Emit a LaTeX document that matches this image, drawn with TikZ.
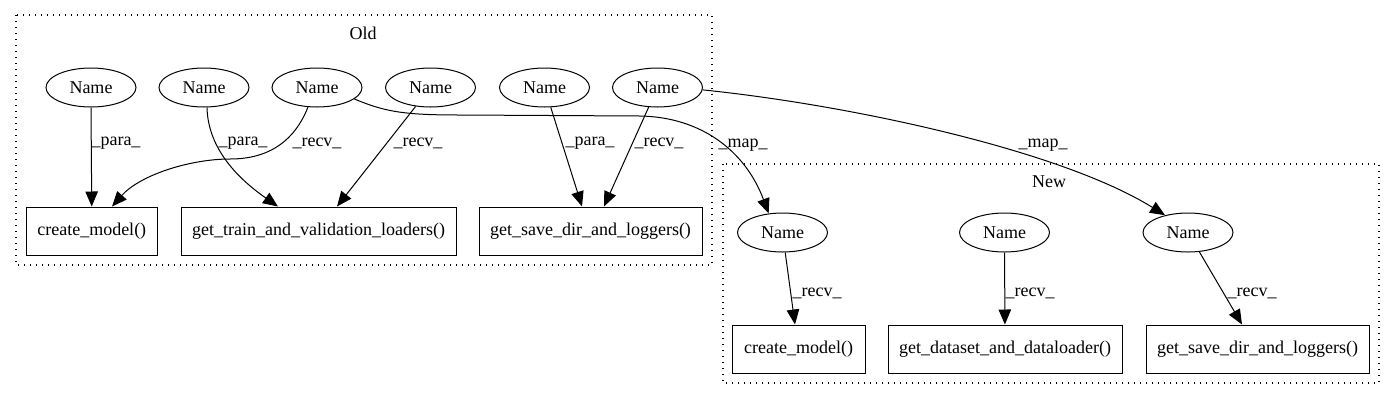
\documentclass[tikz,border=0pt]{standalone}
\usepackage{fontspec}
\setmainfont{Liberation Serif}
\usetikzlibrary{arrows.meta,shapes.geometric,calc}
\begin{document}
\begin{tikzpicture}[x=1pt,y=-1pt,font=\fontsize{18}{20}\selectfont,
  ell/.style={draw,ellipse,minimum width=90pt,minimum height=39pt,inner sep=0pt,line width=1pt},
  box/.style={draw,rectangle,minimum height=48pt,inner sep=0pt,line width=1pt},
  arr/.style={-{Triangle[length=15pt,width=12.5pt]},line width=1pt},
  lab/.style={inner sep=0pt},
  clus/.style={line width=1.3pt,dash pattern=on 1.3pt off 4.7pt}]
\path[use as bounding box] (0,0) rectangle (1395,400);
% clusters
\draw[clus] (16,15) rectangle (712,265);
\node[lab] (oldlab) at (363,33) {Old};
\draw[clus] (723,164) rectangle (1379,383);
\node[lab] (newlab) at (1049,182) {New};
% old nodes
\node[ell] (e1) at (91,87.5) {Name};
\node[ell] (e2) at (204,87.5) {Name};
\node[ell] (e3) at (317,87.5) {Name};
\node[ell] (e4) at (430.5,87.5) {Name};
\node[ell] (e5) at (544.5,87.5) {Name};
\node[ell] (e6) at (657.5,87.5) {Name};
\node[box,minimum width=131.5pt] (b1) at (91.75,231) {create\_model()};
\node[box,minimum width=275pt] (b2) at (318.5,231) {get\_train\_and\_validation\_loaders()};
\node[box,minimum width=223pt] (b3) at (590.5,231) {get\_save\_dir\_and\_loggers()};
% new nodes
\node[ell] (n1) at (782.5,232.5) {Name};
\node[ell] (n2) at (1004.5,232.5) {Name};
\node[ell] (n3) at (1188,232.5) {Name};
\node[box,minimum width=133pt] (c1) at (798.5,349) {create\_model()};
\node[box,minimum width=234pt] (c2) at (1005,349) {get\_dataset\_and\_dataloader()};
\node[box,minimum width=223pt] (c3) at (1257.5,349) {get\_save\_dir\_and\_loggers()};
% old edges
\draw[arr] (e1.south) -- (b1.north);
\draw[arr] ($(e2.south)+(3,0)$) .. controls (208,150) and (240,180) .. ($(b2.north)+(-40.5,0)$);
\draw[arr] ($(e3.south)+(-9,-0.5)$) .. controls (295,140) and (270,159) .. (230,159)
  .. controls (190,159) and (140,175) .. ($(b1.north)+(20.25,0)$);
\draw[arr] (e4) -- ($(b2.north)+(18.5,0)$);
\draw[arr] (e5) -- ($(b3.north)+(-8.5,0)$);
\draw[arr] (e6) -- ($(b3.north)+(13.5,0)$);
% map edges
\draw[arr] (e3.-17) .. controls (385,112) and (405,115) .. (460,115) -- (640,116)
  .. controls (700,117) and (745,150) .. (n1.126);
\draw[arr] (e6.-3) .. controls (850,105) and (1060,150) .. (n3.143);
% new edges
\draw[arr] (n1) -- ($(c1.north)+(-3.5,0)$);
\draw[arr] (n2) -- (c2);
\draw[arr] (n3) -- ($(c3.north)+(-15.5,0)$);
% labels
\node[lab] (l1) at (116,143) {\_para\_};
\node[lab] (l2) at (243,143) {\_para\_};
\node[lab] (l3) at (317,143) {\_recv\_};
\node[lab] (l4) at (418,143) {\_recv\_};
\node[lab] (l5) at (590,143) {\_para\_};
\node[lab] (l6) at (659,143) {\_recv\_};
\node[lab] (m1) at (743,145) {\_map\_};
\node[lab] (m2) at (1043,145) {\_map\_};
\node[lab] (r1) at (817,293) {\_recv\_};
\node[lab] (r2) at (1030,293) {\_recv\_};
\node[lab] (r3) at (1252,293) {\_recv\_};
\end{tikzpicture}
\end{document}
